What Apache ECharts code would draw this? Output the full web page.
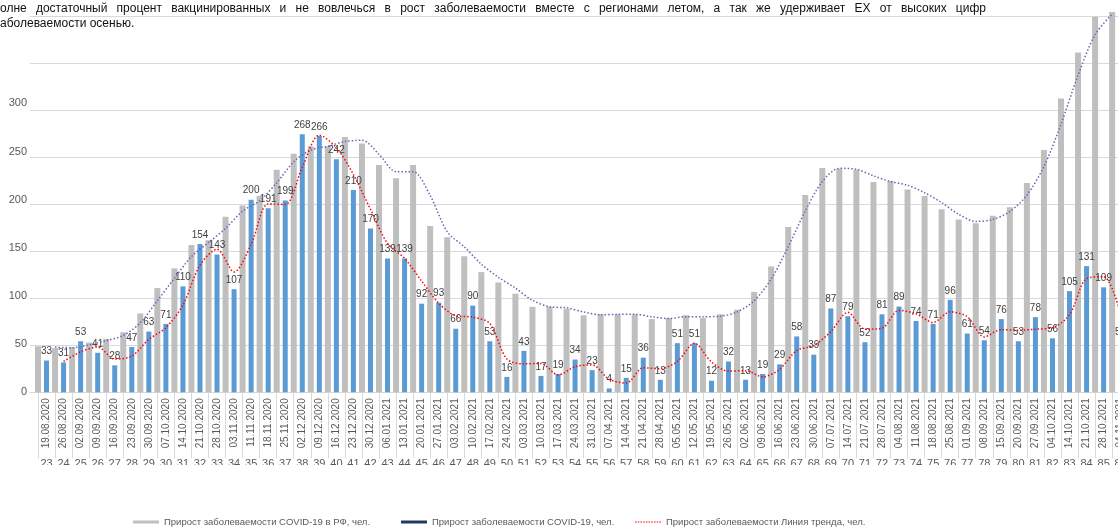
<!DOCTYPE html>
<html>
<head>
<meta charset="utf-8">
<script src="https://cdn.jsdelivr.net/npm/echarts@6/dist/echarts.min.js"></script>
<style>
    body { margin: 0; background: #fff; }
    #wrap { position: relative; width: 1118px; height: 529px; overflow: hidden; }
    /* холст шире окна: справа график обрезан, как на исходном снимке */
    #chart { width: 1140px; height: 529px; }
    .note {
        position: absolute; left: 0; width: 986px;
        font-family: 'Liberation Sans', Arial, sans-serif; font-size: 12px; line-height: 14.6px;
        color: #111; white-space: normal;
    }
    .note.first { top: 1.4px; text-align: justify; text-align-last: justify; }
    .note.second { top: 16px; }
</style>
</head>
<body>
<div id="wrap">
    <div id="chart"></div>
    <div class="note first">олне достаточный процент вакцинированных и не вовлечься в рост заболеваемости вместе с регионами летом, а так же удерживает ЕХ от высоких цифр</div>
    <div class="note second">аболеваемости осенью.</div>
</div>
<script>
const dates = [
    '19.08.2020', '26.08.2020', '02.09.2020', '09.09.2020', '16.09.2020', '23.09.2020', '30.09.2020', '07.10.2020',
    '14.10.2020', '21.10.2020', '28.10.2020', '03.11.2020', '11.11.2020', '18.11.2020', '25.11.2020', '02.12.2020',
    '09.12.2020', '16.12.2020', '23.12.2020', '30.12.2020', '06.01.2021', '13.01.2021', '20.01.2021', '27.01.2021',
    '03.02.2021', '10.02.2021', '17.02.2021', '24.02.2021', '03.03.2021', '10.03.2021', '17.03.2021', '24.03.2021',
    '31.03.2021', '07.04.2021', '14.04.2021', '21.04.2021', '28.04.2021', '05.05.2021', '12.05.2021', '19.05.2021',
    '26.05.2021', '02.06.2021', '09.06.2021', '16.06.2021', '23.06.2021', '30.06.2021', '07.07.2021', '14.07.2021',
    '21.07.2021', '28.07.2021', '04.08.2021', '11.08.2021', '18.08.2021', '25.08.2021', '01.09.2021', '08.09.2021',
    '15.09.2021', '20.09.2021', '27.09.2021', '04.10.2021', '14.10.2021', '21.10.2021', '28.10.2021', '04.11.2021'
]

const weeks = [
    '23', '24', '25', '26', '27', '28', '29', '30', '31', '32', '33', '34', '35', '36', '37', '38',
    '39', '40', '41', '42', '43', '44', '45', '46', '47', '48', '49', '50', '51', '52', '53', '54',
    '55', '56', '57', '58', '59', '60', '61', '62', '63', '64', '65', '66', '67', '68', '69', '70',
    '71', '72', '73', '74', '75', '76', '77', '78', '79', '80', '81', '82', '83', '84', '85', '86'
]

// прирост по РФ (серые столбцы, вспомогательная ось)
const rfCases = [
    49, 47, 48, 53, 57, 64, 84, 111, 132, 157,
    162, 187, 199, 209, 237, 254, 262, 262, 272, 265,
    242, 228, 242, 177, 165, 145, 128, 117, 105, 91,
    91, 89, 82, 83, 83, 83, 78, 79, 82, 79,
    83, 88, 107, 134, 176, 210, 239, 238, 237, 224,
    225, 216, 209, 195, 184, 180, 188, 197, 223, 258,
    313, 362, 400, 405
]

// прирост по региону (синие столбцы)
const regionCases = [
    33, 31, 53, 41, 28, 47, 63, 71, 110, 154,
    143, 107, 200, 191, 199, 268, 266, 242, 210, 170,
    139, 139, 92, 93, 66, 90, 53, 16, 43, 17,
    19, 34, 23, 4, 15, 36, 13, 51, 51, 12,
    32, 13, 19, 29, 58, 39, 87, 79, 52, 81,
    89, 74, 71, 96, 61, 54, 76, 53, 78, 56,
    105, 131, 109, 53
]

// линия тренда региона (красная)
const regionTrend = [
    '-', 32, 42, 47, 34.5, 37.5, 55, 67, 90.5, 132,
    148.5, 125, 153.5, 195.5, 195, 233.5, 267, 254, 226, 190,
    154.5, 139, 115.5, 92.5, 79.5, 78, 71.5, 34.5, 29.5, 30,
    18, 26.5, 28.5, 13.5, 9.5, 25.5, 24.5, 32, 51, 31.5,
    22, 22.5, 16, 24, 43.5, 48.5, 63, 83, 65.5, 66.5,
    85, 81.5, 72.5, 83.5, 78.5, 57.5, 65, 64.5, 65.5, 67,
    80.5, 118, 120, 81
]

// линия тренда РФ (фиолетовая)
const rfTrend = [
    '-', 48, 47.5, 50.5, 55, 60.5, 74, 97.5, 121.5, 144.5,
    159.5, 174.5, 193, 204, 223, 245.5, 258, 262, 267, 268.5,
    253.5, 235, 235, 209.5, 171, 155, 136.5, 122.5, 111, 98,
    91, 90, 85.5, 82.5, 83, 83, 80.5, 78.5, 80.5, 80.5,
    81, 85.5, 97.5, 120.5, 155, 193, 224.5, 238.5, 237.5, 230.5,
    224.5, 220.5, 212.5, 202, 189.5, 182, 184, 192.5, 210, 240.5,
    285.5, 337.5, 381, 402.5
]

const NAME_RF = 'Прирост заболеваемости COVID-19 в РФ, чел.'
const NAME_REGION = 'Прирост заболеваемости COVID-19, чел.'
const NAME_TREND = 'Прирост заболеваемости Линия тренда, чел.'

const FONT = "'Liberation Sans', Arial, sans-serif"
const GRID_TOP = 12
const GRID_H = 380.3
const CAT_W = 17.05
const MAIN_MAX = 394.8
const SUB_MAX = 405

const dottedIcon = () => {
    let p = 'path://'
    for (let x = 0; x < 26; x += 2.6) {
        p += 'M' + x.toFixed(1) + ',0h1.5v1h-1.5z'
    }
    return p
}

const legendBase = (left, item) => {
    return {
        left: left,
        top: 517,
        padding: 0,
        itemWidth: 26,
        itemHeight: 3,
        itemGap: 0,
        selectedMode: false,
        textStyle: {fontSize: 9.5, color: '#595959', fontFamily: FONT},
        data: [item]
    }
}

const getOption = () => {
    return {
        animation: false,
        textStyle: {fontFamily: FONT},
        grid: [
            {left: 30, top: GRID_TOP, width: 1100, height: GRID_H},
            {left: 38, top: GRID_TOP, width: CAT_W * dates.length, height: GRID_H}
        ],
        legend: [
            legendBase(133, {name: NAME_RF, icon: 'rect', itemStyle: {color: '#bfbfbf'}}),
            legendBase(401, {name: NAME_REGION, icon: 'rect', itemStyle: {color: '#203864'}}),
            legendBase(635, {name: NAME_TREND, icon: dottedIcon()})
        ],
        xAxis: [
            {
                gridIndex: 0, type: 'value', min: 0, max: 1,
                axisLine: {show: true, lineStyle: {color: '#d9d9d9'}},
                axisTick: {show: false}, axisLabel: {show: false}, splitLine: {show: false}
            },
            {
                gridIndex: 1, type: 'category', position: 'bottom', data: dates,
                axisLine: {show: false},
                axisTick: {show: true, interval: 0, length: 66, lineStyle: {color: '#d9d9d9'}},
                axisLabel: {interval: 0, rotate: 90, margin: 6, fontSize: 10, color: '#595959', fontFamily: FONT}
            },
            {
                gridIndex: 1, type: 'category', position: 'bottom', data: weeks,
                axisLine: {show: false}, axisTick: {show: false},
                axisLabel: {interval: 0, margin: 66, fontSize: 11, color: '#595959', fontFamily: FONT}
            },
            {
                gridIndex: 1, type: 'category', boundaryGap: false, data: dates.concat(['']), show: false
            }
        ],
        yAxis: [
            {
                gridIndex: 0, type: 'value', min: 0, max: MAIN_MAX, interval: 50,
                axisLine: {show: false}, axisTick: {show: false}, splitLine: {show: false},
                axisLabel: {
                    margin: 3, fontSize: 11, color: '#595959', fontFamily: FONT,
                    formatter: v => (v <= 300 ? String(v) : '')
                }
            },
            {
                gridIndex: 0, type: 'value', position: 'left', min: 0, max: SUB_MAX, interval: 50,
                axisLine: {show: false}, axisTick: {show: false}, axisLabel: {show: false},
                splitLine: {show: true, showMaxLine: false, lineStyle: {color: '#d9d9d9'}}
            },
            {gridIndex: 1, type: 'value', min: 0, max: MAIN_MAX, show: false},
            {gridIndex: 1, type: 'value', min: 0, max: SUB_MAX, show: false}
        ],
        series: [
            {
                name: NAME_RF,
                type: 'bar',
                xAxisIndex: 3,
                yAxisIndex: 3,
                barWidth: 6,
                clip: false,
                itemStyle: {color: '#bfbfbf'},
                data: rfCases
            },
            {
                name: NAME_REGION,
                type: 'bar',
                xAxisIndex: 1,
                yAxisIndex: 2,
                barWidth: 5,
                clip: false,
                itemStyle: {color: '#5b9bd5'},
                label: {show: true, position: 'top', distance: 4, fontSize: 10, color: '#404040', fontFamily: FONT},
                data: regionCases
            },
            {
                name: 'Линия тренда РФ',
                type: 'line',
                xAxisIndex: 3,
                yAxisIndex: 3,
                smooth: 0.3,
                symbol: 'none',
                color: '#7260b3',
                lineStyle: {color: '#7260b3', width: 1.5, type: [1.5, 2]},
                data: rfTrend
            },
            {
                name: NAME_TREND,
                type: 'line',
                xAxisIndex: 1,
                yAxisIndex: 2,
                smooth: 0.3,
                symbol: 'none',
                color: '#ff0000',
                lineStyle: {color: '#ff0000', width: 1.5, type: [1.5, 2]},
                data: regionTrend
            }
        ],
        graphic: [
            // нижняя строка номеров недель обрезана, как на исходнике
            {type: 'rect', left: 0, top: 465, z: 100, shape: {width: 1140, height: 44}, style: {fill: '#fff'}}
        ]
    }
}

const initChart = () => {
    const chart = echarts.init(document.getElementById('chart'))
    chart.setOption(getOption())
    return chart
}

initChart()
</script>
</body>
</html>
